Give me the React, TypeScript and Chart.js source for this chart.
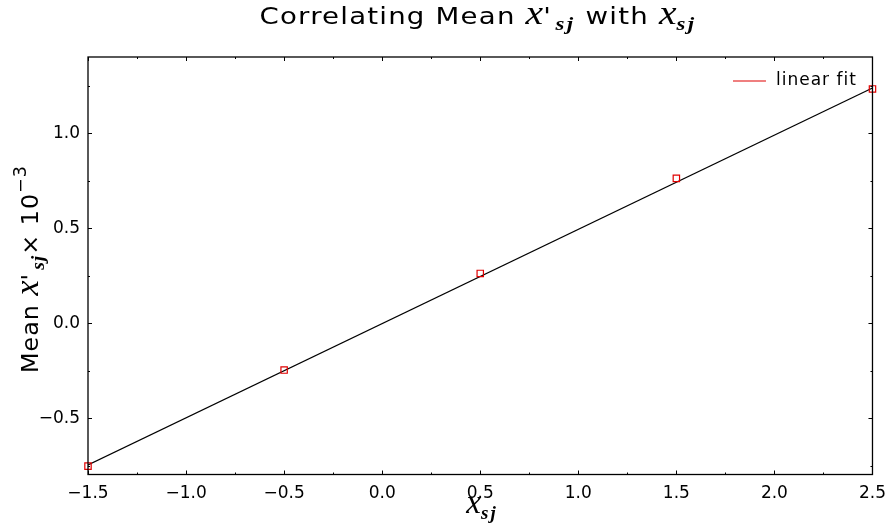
import React, { useEffect, useRef } from "react";
import { Chart, registerables } from "chart.js";

Chart.register(...registerables);

// Measured offsets and fitted line
const xValues = [-1.5, -0.5, 0.5, 1.5, 2.5];
const meanValues = [-0.751, -0.246, 0.262, 0.762, 1.232];
const fitX = [-1.5, 2.5];
const fitY = [-0.745, 1.237];

// Axis ranges and tick labels
const xRange = [-1.5, 2.5];
const yRange = [-0.795, 1.4];
const xTicks = [-1.5, -1.0, -0.5, 0.0, 0.5, 1.0, 1.5, 2.0, 2.5];
const yTicks = [-0.5, 0.0, 0.5, 1.0];
const minorStep = 0.25;

const SANS = "'DejaVu Sans', sans-serif";
const MATH = "'Liberation Serif', serif";

type Run = { text: string; font: string; dy?: number; ls?: number };

function applyRun(ctx: any, r: Run) {
  ctx.font = r.font;
  ctx.letterSpacing = `${r.ls || 0}px`;
}

function runsWidth(ctx: CanvasRenderingContext2D, runs: Run[]) {
  let w = 0;
  for (const r of runs) {
    applyRun(ctx, r);
    w += ctx.measureText(r.text).width;
  }
  return w;
}

// Draws a sequence of styled text runs centred on cx, optionally stretched to a given width
function drawRuns(
  ctx: CanvasRenderingContext2D,
  runs: Run[],
  cx: number,
  baseline: number,
  width?: number
) {
  const w = runsWidth(ctx, runs);
  const sx = width ? width / w : 1;
  ctx.save();
  ctx.translate(cx, baseline);
  ctx.scale(sx, 1);
  let x = -w / 2;
  ctx.textAlign = "left";
  ctx.textBaseline = "alphabetic";
  for (const r of runs) {
    applyRun(ctx, r);
    ctx.fillText(r.text, x, r.dy || 0);
    x += ctx.measureText(r.text).width;
  }
  (ctx as any).letterSpacing = "0px";
  ctx.restore();
}

const fmt = (v: number) => {
  const s = Math.abs(v).toFixed(1);
  return v < -1e-9 ? "\u2212" + s : s;
};

const TITLE = `23px ${SANS}`;
const TEXT = `23px ${SANS}`;
const XVAR = `italic 33px ${MATH}`;
const SUB = `italic bold 19px ${MATH}`;

const framePlugin = {
  id: "frame",
  afterDraw(chart: any) {
    const { ctx, chartArea } = chart;
    const { left, right, top, bottom } = chartArea;
    const xs = chart.scales.x;
    const ys = chart.scales.y;
    ctx.save();
    ctx.strokeStyle = "#000";
    ctx.lineWidth = 1.3;
    ctx.strokeRect(left, top, right - left, bottom - top);

    ctx.lineWidth = 1;
    ctx.beginPath();
    const eps = 1e-6;
    for (let v = xRange[0]; v <= xRange[1] + eps; v += minorStep) {
      const px = Math.round(xs.getPixelForValue(v)) + 0.5;
      const major = Math.abs(v / 0.5 - Math.round(v / 0.5)) < eps;
      const len = major ? 4 : 2;
      ctx.moveTo(px, bottom);
      ctx.lineTo(px, bottom - len);
      ctx.moveTo(px, top);
      ctx.lineTo(px, top + len);
    }
    const yStart = Math.ceil(yRange[0] / minorStep) * minorStep;
    for (let v = yStart; v <= yRange[1] + eps; v += minorStep) {
      const py = Math.round(ys.getPixelForValue(v)) + 0.5;
      const major = Math.abs(v / 0.5 - Math.round(v / 0.5)) < eps;
      const len = major ? 4 : 2;
      ctx.moveTo(left, py);
      ctx.lineTo(left + len, py);
      ctx.moveTo(right, py);
      ctx.lineTo(right - len, py);
    }
    ctx.stroke();

    ctx.fillStyle = "#000";
    // chart title
    drawRuns(
      ctx,
      [
        { text: "Correlating Mean ", font: TITLE, ls: 1 },
        { text: "x", font: XVAR },
        { text: "'", font: TITLE, ls: 4 },
        { text: "sj", font: SUB, dy: 6, ls: 2 },
        { text: " with ", font: TITLE, ls: 1 },
        { text: "x", font: XVAR },
        { text: "sj", font: SUB, dy: 6, ls: 2 },
      ],
      478,
      24,
      437
    );

    // x-axis title
    drawRuns(
      ctx,
      [
        { text: "x", font: XVAR },
        { text: "sj", font: SUB, dy: 6, ls: 2 },
      ],
      482,
      513
    );

    // y-axis title
    ctx.save();
    ctx.translate(38, 269);
    ctx.rotate(-Math.PI / 2);
    drawRuns(
      ctx,
      [
        { text: "Mean ", font: TEXT, ls: 1 },
        { text: "x", font: XVAR },
        { text: "'", font: TEXT, ls: 4 },
        { text: "sj", font: SUB, dy: 6, ls: 1 },
        { text: "\u00d7 10", font: TEXT, ls: 1 },
        { text: "\u22123", font: `17px ${SANS}`, dy: -12, ls: 1 },
      ],
      0,
      0,
      208
    );
    ctx.restore();

    // legend
    const ly = top + 24;
    ctx.strokeStyle = "#e00000";
    ctx.lineWidth = 1.2;
    ctx.beginPath();
    ctx.moveTo(right - 139.5, ly);
    ctx.lineTo(right - 106.5, ly);
    ctx.stroke();
    ctx.fillStyle = "#000";
    ctx.font = `17px ${SANS}`;
    ctx.letterSpacing = "1px";
    ctx.textAlign = "left";
    ctx.textBaseline = "middle";
    ctx.fillText("linear fit", right - 96.5, ly);
    ctx.letterSpacing = "0px";
    ctx.restore();
  },
};

export default function App() {
  const ref = useRef<HTMLCanvasElement | null>(null);

  useEffect(() => {
    if (!ref.current) return;
    const chart = new Chart(ref.current, {
      type: "scatter",
      data: {
        datasets: [
          {
            label: "linear fit",
            data: fitX.map((x, i) => ({ x, y: fitY[i] })),
            showLine: true,
            borderColor: "#000",
            borderWidth: 1.3,
            pointRadius: 0,
            order: 2,
          },
          {
            label: "mean",
            data: xValues.map((x, i) => ({ x, y: meanValues[i] })),
            showLine: false,
            pointStyle: "rect",
            pointRadius: 4.5,
            borderColor: "#e00000",
            backgroundColor: "rgba(0,0,0,0)",
            borderWidth: 1.2,
            clip: false as any,
            order: 1,
          },
        ],
      },
      options: {
        animation: false,
        responsive: false,
        devicePixelRatio: 1,
        layout: { padding: { top: 57, right: 18.5, left: 0, bottom: 0 } },
        plugins: { legend: { display: false }, tooltip: { enabled: false }, title: { display: false } },
        scales: {
          x: {
            type: "linear",
            min: xRange[0],
            max: xRange[1],
            grid: { display: false, drawTicks: false },
            border: { display: false },
            afterBuildTicks: (s: any) => {
              s.ticks = xTicks.map((v) => ({ value: v }));
            },
            afterFit: (s: any) => {
              s.height = 56.5;
            },
            ticks: {
              padding: 9,
              color: "#000",
              font: { family: SANS, size: 17 },
              maxRotation: 0,
              callback: (v: any) => fmt(Number(v)),
            },
          },
          y: {
            type: "linear",
            min: yRange[0],
            max: yRange[1],
            grid: { display: false, drawTicks: false },
            border: { display: false },
            afterBuildTicks: (s: any) => {
              s.ticks = yTicks.map((v) => ({ value: v }));
            },
            afterFit: (s: any) => {
              s.width = 88;
            },
            ticks: {
              padding: 8,
              color: "#000",
              font: { family: SANS, size: 17 },
              callback: (v: any) => fmt(Number(v)),
            },
          },
        },
      },
      plugins: [framePlugin],
    });
    return () => chart.destroy();
  }, []);

  return (
    <div style={{ position: "fixed", left: 0, top: 0, width: 895, height: 531, background: "#fff" }}>
      <canvas ref={ref} width={895} height={531} style={{ display: "block" }} />
    </div>
  );
}
